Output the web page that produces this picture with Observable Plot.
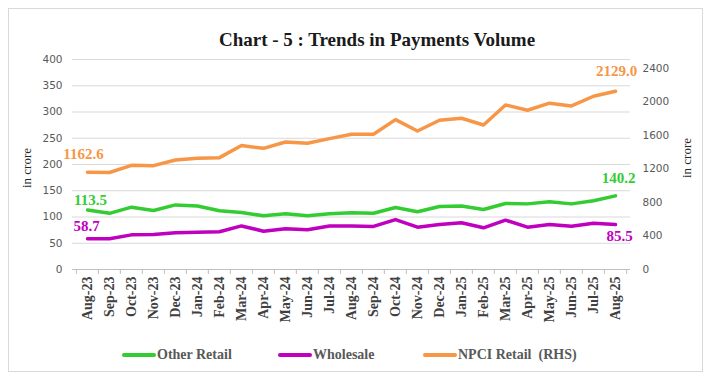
<!DOCTYPE html>
<html>
<head>
<meta charset="utf-8">
<script src="https://cdn.jsdelivr.net/npm/d3@7"></script>
<script src="https://cdn.jsdelivr.net/npm/@observablehq/plot@0.6"></script>
<style>
  html, body { margin: 0; padding: 0; background: #fff; }
  #wrap { position: relative; width: 710px; height: 382px; overflow: hidden; }
  #frame { position: absolute; left: 8px; top: 8px; width: 695px; height: 364px; border: 1px solid #d9d9d9; box-sizing: border-box; }
  #title { position: absolute; left: 0; width: 754px; top: 30px; text-align: center; font: bold 19px "Liberation Serif", serif; line-height: 19px; color: #1a1a1a; }
  #chart { position: absolute; left: 0; top: 0; }
  .ylab { position: absolute; font: 13px "Liberation Serif", serif; color: #262626; transform: rotate(-90deg); white-space: nowrap; }
  #legend { position: absolute; top: 347px; left: 0; width: 710px; height: 18px; font: bold 14px "Liberation Serif", serif; color: #595959; }
  .item { position: absolute; display: flex; align-items: center; }
  .sw { width: 34px; height: 4px; border-radius: 2px; margin-right: 1px; }
</style>
</head>
<body>
<div id="wrap">
  <div id="frame"></div>
  <div id="title">Chart - 5 : Trends in Payments Volume</div>
  <div id="chart"></div>
  <div class="ylab" style="left:7px; top:160px;">in crore</div>
  <div class="ylab" style="left:667px; top:150px;">in crore</div>
  <div id="legend"></div>
</div>
<script>
const months = ["Aug-23","Sep-23","Oct-23","Nov-23","Dec-23","Jan-24","Feb-24","Mar-24","Apr-24","May-24","Jun-24","Jul-24","Aug-24","Sep-24","Oct-24","Nov-24","Dec-24","Jan-25","Feb-25","Mar-25","Apr-25","May-25","Jun-25","Jul-25","Aug-25"];
const otherRetail = [113.5,107.0,118.7,112.4,123.0,121.0,111.8,108.6,102.3,106.0,102.3,106.0,108.0,107.2,118.0,110.0,120.0,121.0,114.3,125.7,125.0,129.0,125.0,130.8,140.2];
const wholesale = [58.7,58.4,66.0,66.7,70.0,71.0,71.8,83.0,73.0,77.5,75.6,83.0,83.0,82.0,95.0,80.6,85.7,89.0,79.4,94.0,80.6,85.7,82.5,88.0,85.5];
const npciRetail = [1162.6,1158,1244,1240,1308,1328,1336,1480,1447,1523,1507,1563,1615,1615,1790,1654,1782,1806,1726,1965,1902,1986,1953,2069,2129.0];
const leftTicks = [0,50,100,150,200,250,300,350,400];
const rightTicks = [0,400,800,1200,1600,2000,2400];
const series = [
  {name: "Other Retail", values: otherRetail, color: "#33CC33", axis: "left"},
  {name: "Wholesale", values: wholesale, color: "#BF00BF", axis: "left"},
  {name: "NPCI Retail  (RHS)", values: npciRetail, color: "#F79646", axis: "right"}
];

const leftMax = 400, rightMax = 2508;
const f = leftMax / rightMax;
const W = 710, H = 382, mL = 72, mR = 80, mT = 59, mB = 113;
const bw = (W - mL - mR) / months.length;

const rows = [];
series.forEach(s => s.values.forEach((v, i) => rows.push({
  series: s.name, month: months[i], i, value: v,
  y: s.axis === "right" ? v * f : v, color: s.color
})));

const labelFmt = v => v.toFixed(1);
const endLabels = [
  {series: "NPCI Retail  (RHS)", i: 0, dx: -4, dy: -18},
  {series: "Other Retail", i: 0, dx: 3, dy: -10},
  {series: "Wholesale", i: 0, dx: -1, dy: -12},
  {series: "NPCI Retail  (RHS)", i: 24, dx: 1, dy: -20},
  {series: "Other Retail", i: 24, dx: 3, dy: -18},
  {series: "Wholesale", i: 24, dx: 4, dy: 12}
];
const labelMarks = endLabels.map(l => Plot.text(rows.filter(r => r.series === l.series && r.i === l.i), {
  x: "month", y: "y", text: d => labelFmt(d.value), fill: d => d.color,
  dx: l.dx, dy: l.dy, fontFamily: "Liberation Serif", fontWeight: "bold", fontSize: 15
}));

const chart = Plot.plot({
  width: W, height: H,
  marginLeft: mL, marginRight: mR, marginTop: mT, marginBottom: mB,
  x: {type: "band", domain: months, padding: 0},
  y: {domain: [0, leftMax]},
  color: {type: "identity"},
  style: {background: "transparent", overflow: "visible"},
  marks: [
    Plot.gridY(leftTicks, {stroke: "#d9d9d9", strokeOpacity: 1}),
    Plot.ruleY([0], {stroke: "#bfbfbf"}),
    Plot.ruleX(months, {x: d => d, dx: -bw / 2, y1: 0, y2: -9.5, stroke: "#bfbfbf"}),
    Plot.ruleX([months[months.length - 1]], {x: d => d, dx: bw / 2, y1: 0, y2: -9.5, stroke: "#bfbfbf"}),
    Plot.axisY(leftTicks, {anchor: "left", tickSize: 0, tickPadding: 10, label: null,
      fontFamily: "DejaVu Sans", fontSize: 10.5, fill: "#595959"}),
    Plot.axisY(rightTicks.map(v => v * f), {anchor: "right", tickSize: 0, tickPadding: 12, label: null,
      tickFormat: d => String(Math.round(d / f)), textAnchor: "start",
      fontFamily: "DejaVu Sans", fontSize: 10.5, fill: "#595959"}),
    Plot.axisX({tickSize: 0, tickPadding: 7, tickRotate: -90, label: null,
      fontFamily: "Liberation Serif", fontWeight: "bold", fontSize: 14, fill: "#404040"}),
    Plot.line(rows, {x: "month", y: "y", z: "series", stroke: "color", strokeWidth: 3.5,
      strokeLinejoin: "round", strokeLinecap: "round"}),
    ...labelMarks
  ]
});
document.getElementById("chart").appendChild(chart);

const legend = document.getElementById("legend");
const legendX = [122, 278, 423];
series.forEach((s, k) => {
  const it = document.createElement("div");
  it.className = "item";
  it.style.left = legendX[k] + "px";
  it.innerHTML = `<span class="sw" style="background:${s.color}"></span><span style="white-space:pre">${s.name}</span>`;
  legend.appendChild(it);
});
</script>
</body>
</html>
